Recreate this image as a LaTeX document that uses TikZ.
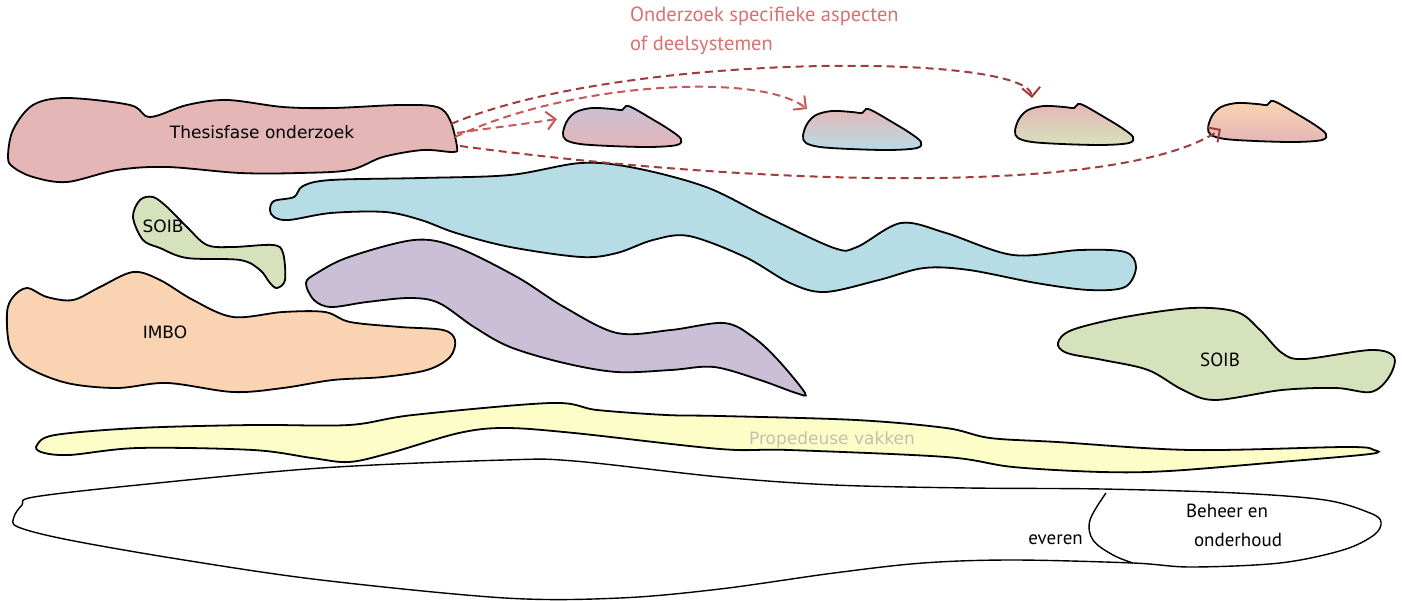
\documentclass[tikz,border=0pt]{standalone}
\usepackage{fontspec}
\setmainfont{DejaVu Sans}
\newfontfamily\condfont{PT Sans}
\usetikzlibrary{arrows.meta}

\definecolor{thesisred}{RGB}{228,182,182}
\definecolor{soibgreen}{RGB}{214,226,188}
\definecolor{imboorange}{RGB}{250,212,178}
\definecolor{streamblue}{RGB}{182,220,230}
\definecolor{streampurple}{RGB}{203,191,216}
\definecolor{propyellow}{RGB}{253,253,200}
\definecolor{arrowdark}{RGB}{160,60,60}
\definecolor{arrowlight}{RGB}{200,88,88}
\definecolor{notered}{RGB}{218,112,112}
\definecolor{propgray}{RGB}{192,192,178}

\tikzset{
  blob/.style={draw=black, line width=1.8pt},
  lbl/.style={inner sep=0pt, font=\fontsize{17}{20}\selectfont},
  clbl/.style={inner sep=0pt, font=\condfont\fontsize{19}{22}\selectfont},
  linkdark/.style={arrowdark, line width=2pt, dash pattern=on 8pt off 5pt,
    -{Straight Barb[length=9pt,width=18pt,line width=2pt]}},
  linklight/.style={linkdark, arrowlight}
}

\newcommand{\smallblob}{plot[smooth cycle, tension=0.55] coordinates {(563,133) (567,121) (576,112) (592,108) (612,109) (622,110) (626,106) (633,108) (652,119) (670,130) (681,139) (677,145) (650,147) (610,146) (580,144) (566,140)}}

\begin{document}
\begin{tikzpicture}[x=1pt, y=-1pt]
\useasboundingbox (0,0) rectangle (1402,601);

% bottom band
\draw[black, line width=1.4pt, fill=white] plot[smooth cycle, tension=0.55] coordinates {(34,497) (138,485) (321,468) (505,460) (574,461) (720,477) (834,485) (968,488) (1102,489) (1236,493) (1325,500) (1370,513) (1381,522) (1374,535) (1343,550) (1280,563) (1191,567) (1133,563) (1013,560) (923,563) (834,573) (720,589) (620,598) (505,598) (321,580) (184,560) (69,540) (18,527) (14,517) (22,505)};
\draw[black, line width=1.4pt] plot[smooth, tension=0.6] coordinates {(1106,493) (1090,520) (1093,540) (1113,555) (1133,563)};

% big shapes
\draw[blob, fill=propyellow] plot[smooth cycle, tension=0.55] coordinates {(37,445) (55,435) (138,428) (253,425) (349,425) (413,415) (551,403) (597,410) (666,415) (720,416) (856,420) (946,428) (990,438) (1057,442) (1191,450) (1347,447) (1374,450) (1370,454) (1280,462) (1169,471) (1102,472) (1013,467) (946,457) (789,450) (720,449) (574,433) (505,428) (459,433) (390,453) (349,462) (312,458) (253,450) (138,448) (69,455) (41,452)};
\draw[blob, fill=thesisred] plot[smooth cycle, tension=0.55] coordinates {(8,157) (13,130) (33,105) (67,98) (130,105) (150,117) (187,105) (227,100) (283,107) (333,108) (400,105) (437,107) (450,120) (457,147) (453,152) (423,150) (383,157) (350,170) (300,173) (240,173) (167,167) (117,170) (67,182) (33,177) (13,167)};
\draw[blob, fill=soibgreen] plot[smooth cycle, tension=0.55] coordinates {(133,217) (140,200) (153,197) (167,207) (187,227) (207,245) (233,247) (273,245) (283,253) (285,280) (277,288) (270,283) (260,270) (240,260) (187,258) (160,248) (143,240)};
\draw[blob, fill=imboorange] plot[smooth cycle, tension=0.55] coordinates {(7,313) (13,297) (27,288) (47,297) (73,300) (100,287) (133,272) (160,280) (193,300) (233,317) (283,312) (325,312) (350,322) (400,327) (443,330) (455,340) (450,357) (427,370) (383,377) (333,380) (283,388) (233,392) (167,383) (117,388) (67,383) (27,367) (10,347)};
\draw[blob, fill=streamblue] plot[smooth cycle, tension=0.55] coordinates {(270,210) (274,201) (294,197) (303,186) (331,180) (421,178) (510,175) (581,163) (635,168) (706,187) (767,217) (834,248) (857,247) (901,223) (946,233) (1013,255) (1080,250) (1125,252) (1136,267) (1125,287) (1089,290) (1036,283) (969,270) (924,268) (879,280) (825,292) (790,283) (745,257) (689,236) (653,240) (617,253) (581,257) (510,247) (456,233) (421,220) (385,212) (331,213) (289,220) (274,217)};
\draw[blob, fill=streampurple] plot[smooth cycle, tension=0.55] coordinates {(306,283) (317,273) (349,257) (414,240) (456,247) (517,277) (564,307) (617,333) (671,330) (724,323) (753,337) (778,360) (805,393) (796,393) (760,380) (714,367) (671,370) (617,372) (564,363) (510,347) (474,327) (439,303) (410,298) (367,302) (331,307) (314,300)};
\draw[blob, fill=soibgreen] plot[smooth cycle, tension=0.55] coordinates {(1058,343) (1072,330) (1125,317) (1192,308) (1237,312) (1260,330) (1282,353) (1304,359) (1371,350) (1394,357) (1389,377) (1371,392) (1336,388) (1282,390) (1215,400) (1183,390) (1148,370) (1103,360) (1067,353)};

% small shapes
\draw[blob, top color=streampurple, bottom color=thesisred] \smallblob;
\draw[blob, top color=thesisred, bottom color=streamblue, shift={(240,3)}] \smallblob;
\draw[blob, top color=thesisred, bottom color=soibgreen, shift={(452,-2)}] \smallblob;
\draw[blob, top color=imboorange, bottom color=thesisred, shift={(645,-5)}] \smallblob;

% labels
\node[lbl] (thesis) at (262,132) {Thesisfase onderzoek};
\node[lbl] (soibleft) at (163,226) {SOIB};
\node[lbl] (imbo) at (165,332) {IMBO};
\node[lbl, propgray] (prop) at (832,440) {Propedeuse vakken};
\node[clbl] (soibright) at (1220,360) {SOIB};
\node[clbl] (beheer1) at (1227,511) {Beheer en};
\node[clbl] (beheer2) at (1238,540) {onderhoud};
\node[clbl, anchor=east] (opl) at (1083,540) {everen};
\node[clbl, notered, anchor=north west, align=left, font=\condfont\fontsize{20.5}{29}\selectfont] (note) at (630,7) {Onderzoek specifieke aspecten\\of deelsystemen};

% connectors
\coordinate (s1) at (457,133);
\coordinate (s2) at (455,137);
\coordinate (s3) at (451,124);
\coordinate (s4) at (460,146);
\coordinate (e1) at (557,119);
\coordinate (e2) at (807,109);
\coordinate (e3) at (1032,98);
\coordinate (e4) at (1221,129);

\draw[linklight] (s1) .. controls (490,128) and (525,124) .. (e1);
\draw[linklight] (s2) .. controls (570,82) and (760,72) .. (e2);
\draw[linkdark] (s3) .. controls (620,52) and (1028,52) .. (e3);
\draw[linkdark] (s4) .. controls (750,185) and (1120,198) .. (e4);
\end{tikzpicture}
\end{document}
